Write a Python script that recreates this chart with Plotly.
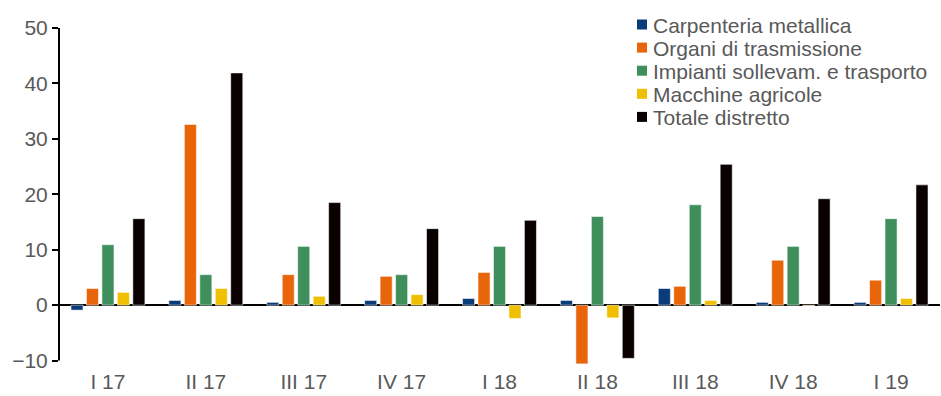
import plotly.graph_objects as go

# Quarterly growth by sector (%)
quarters = ["I 17", "II 17", "III 17", "IV 17", "I 18", "II 18", "III 18", "IV 18", "I 19"]

carpenteria = [-0.9, 0.85, 0.5, 0.85, 1.2, 0.85, 3.0, 0.5, 0.5]
organi = [3.0, 32.6, 5.5, 5.2, 5.9, -10.6, 3.4, 8.1, 4.5]
impianti = [10.9, 5.5, 10.6, 5.5, 10.6, 16.0, 18.1, 10.6, 15.6]
macchine = [2.3, 3.0, 1.6, 1.9, -2.4, -2.3, 0.85, -0.1, 1.2]
totale = [15.6, 41.9, 18.5, 13.8, 15.3, -9.6, 25.4, 19.2, 21.7]

series_names = [
    "Carpenteria metallica",
    "Organi di trasmissione",
    "Impianti sollevam. e trasporto",
    "Macchine agricole",
    "Totale distretto",
]
series_values = [carpenteria, organi, impianti, macchine, totale]
series_colors = ["#0b3c7a", "#e8650a", "#3f8f5c", "#efbf00", "#0a0000"]

y_ticks = [-10, 0, 10, 20, 30, 40, 50]
y_min, y_max = -10.8, 50

FONT = "Liberation Sans, Arial, sans-serif"
GREY = "#595959"
FS = 21

W, H = 941, 396
ML, MR, MT, MB = 59, 1, 28, 31

fig = go.Figure()
for name, vals, col in zip(series_names, series_values, series_colors):
    fig.add_trace(go.Bar(
        x=quarters, y=vals, name=name,
        marker=dict(color=col, line=dict(color="rgba(255,255,255,0.55)", width=1)),
        showlegend=False,
    ))

# Legend drawn as a stacked list of coloured squares and labels
def px_to_paper_x(px):
    return (px - ML) / (W - ML - MR)

def px_to_paper_y(py):
    return (H - MB - py) / (H - MT - MB)

annotations = []
shapes = []
top_row = 24.5
pitch = 23.1
for i, (name, col) in enumerate(zip(series_names, series_colors)):
    cy = top_row + i * pitch
    shapes.append(dict(
        type="rect", xref="paper", yref="paper",
        x0=px_to_paper_x(637), x1=px_to_paper_x(647),
        y0=px_to_paper_y(cy - 5), y1=px_to_paper_y(cy + 5),
        fillcolor=col, line=dict(width=0),
    ))
    annotations.append(dict(
        text=name, xref="paper", yref="paper",
        x=px_to_paper_x(651), y=px_to_paper_y(cy + 1),
        xanchor="left", yanchor="middle", showarrow=False,
        font=dict(family=FONT, size=FS, color=GREY),
    ))

# Vertical axis line spanning only the labelled tick range
shapes.append(dict(
    type="line", xref="paper", yref="y",
    x0=0, x1=0, y0=y_ticks[0], y1=y_ticks[-1],
    line=dict(color="black", width=2), layer="above",
))

fig.update_layout(
    width=W, height=H,
    margin=dict(l=ML, r=MR, t=MT, b=MB, pad=0),
    paper_bgcolor="white", plot_bgcolor="white",
    barmode="group", bargap=0.21, bargroupgap=0.22,
    font=dict(family=FONT, size=FS, color=GREY),
    annotations=annotations, shapes=shapes,
    xaxis=dict(
        showline=False, ticks="", showgrid=False, zeroline=False,
        ticklabelstandoff=2,
        tickfont=dict(family=FONT, size=FS, color=GREY),
    ),
    yaxis=dict(
        range=[y_min, y_max], tickvals=y_ticks,
        showline=False,
        ticks="outside", ticklen=6, tickwidth=2, tickcolor="black",
        showgrid=False,
        zeroline=True, zerolinecolor="black", zerolinewidth=2,
        tickfont=dict(family=FONT, size=FS, color=GREY),
    ),
)

fig.write_html("out.html")
